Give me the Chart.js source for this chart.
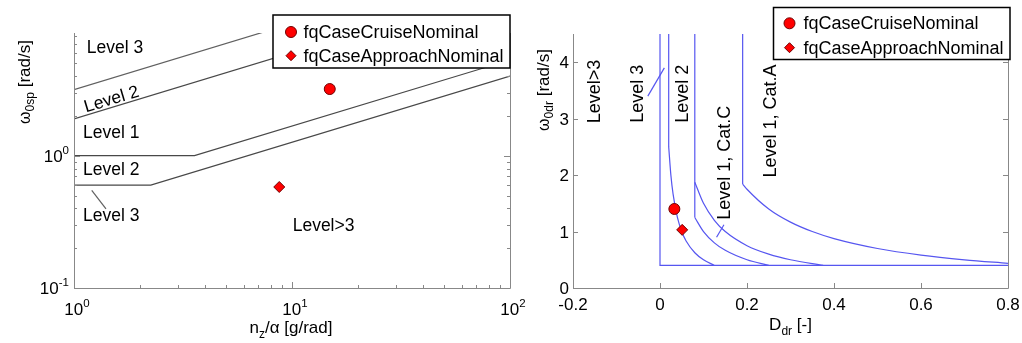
<!DOCTYPE html>
<html>
<head>
<meta charset="utf-8">
<script src="https://cdn.jsdelivr.net/npm/chart.js@4.4.1/dist/chart.umd.min.js"></script>
<style>
html, body { margin: 0; padding: 0; background: #fff; }
#wrap { position: relative; width: 1022px; height: 343px; overflow: hidden; }
canvas { position: absolute; top: 0; }
#spChart { left: 0; }
#drChart { left: 520px; }
</style>
</head>
<body>
<div id="wrap">
  <canvas id="spChart" width="530" height="343"></canvas>
  <canvas id="drChart" width="502" height="343"></canvas>
</div>
<script>
// ---- left plot: short period frequency vs n/alpha (log-log) ----
const spCap10X = [1, 100];
const spCap10Y = [3.16, 31.6];
const spCap36X = [1, 100];
const spCap36Y = [1.9, 19];
const spLvl1LowX = [1, 3.57, 100];
const spLvl1LowY = [1.0, 1.0, 5.29];
const spLvl2LowX = [1, 2.25, 100];
const spLvl2LowY = [0.6, 0.6, 4.0];
const spLeaderX = [1.206, 1.402];
const spLeaderY = [0.547, 0.397];
const spCruise = { x: [14.9], y: [3.19] };
const spApproach = { x: [8.74], y: [0.58] };
const spXTickVals = [1, 10, 100];
const spXTickExp = ['0', '1', '2'];
const spYTickVals = [0.1, 1];
const spYTickExp = ['-1', '0'];
const spMinor = [2, 3, 4, 5, 6, 7, 8, 9];
// annotation text: [label, x, y, align, rotation(deg)]
const spTexts = [
  ['Level 3', 1.144, 6.55, 'left', 0],
  ['Level 2', 1.489, 2.65, 'center', -16.8],
  ['Level 1', 1.10, 1.485, 'left', 0],
  ['Level 2', 1.10, 0.784, 'left', 0],
  ['Level 3', 1.10, 0.348, 'left', 0],
  ['Level>3', 10.07, 0.292, 'left', 0]
];

// ---- right plot: dutch roll frequency vs damping ----
const drLvl3X = [0, 0, 0.8];
const drLvl3Y = [4.5, 0.4, 0.4];
const drLvl2VertX = [0.02, 0.02];
const drLvl2VertY = [4.5, 2.5];
const drLvl2CurveX = [0.02, 0.025, 0.03, 0.04, 0.05, 0.06, 0.08, 0.1, 0.125];
const drLvl2CurveY = [2.5, 2.0, 1.667, 1.25, 1.0, 0.833, 0.625, 0.5, 0.4];
const drCatCVertX = [0.08, 0.08];
const drCatCVertY = [4.5, 1.25];
const drCatC1CurveX = [0.08, 0.1, 0.125, 0.15, 0.2, 0.25];
const drCatC1CurveY = [1.25, 1.0, 0.8, 0.667, 0.5, 0.4];
const drCatC2CurveX = [0.08, 0.1, 0.125, 0.15, 0.2, 0.25, 0.3, 0.375];
const drCatC2CurveY = [1.875, 1.5, 1.2, 1.0, 0.75, 0.6, 0.5, 0.4];
const drCatAVertX = [0.19, 0.19];
const drCatAVertY = [4.5, 1.842];
const drCatACurveX = [0.19, 0.2, 0.25, 0.3, 0.35, 0.4, 0.5, 0.6, 0.7, 0.8];
const drCatACurveY = [1.842, 1.75, 1.4, 1.167, 1.0, 0.875, 0.7, 0.583, 0.5, 0.4375];
const drLeader1X = [-0.028, 0.010];
const drLeader1Y = [3.40, 3.90];
const drLeader2X = [0.130, 0.147];
const drLeader2Y = [0.90, 1.12];
const drCruise = { x: [0.033], y: [1.40] };
const drApproach = { x: [0.051], y: [1.03] };
const drXTickVals = [-0.2, 0, 0.2, 0.4, 0.6, 0.8];
const drXTickLabels = ['-0.2', '0', '0.2', '0.4', '0.6', '0.8'];
const drYTickVals = [0, 1, 2, 3, 4];
const drYTickLabels = ['0', '1', '2', '3', '4'];
const drTexts = [
  ['Level>3', -0.149, 3.48],
  ['Level 3', -0.050, 3.44],
  ['Level 2', 0.053, 3.44],
  ['Level 1, Cat.C', 0.149, 2.22],
  ['Level 1, Cat.A', 0.256, 2.96]
];

const legendLabels = ['fqCaseCruiseNominal', 'fqCaseApproachNominal'];

const FONT = '"Liberation Sans", Arial, Helvetica, sans-serif';
const AXIS = '#888';
const GRAYLINE = '#484848';
const BLUE = '#5656f0';

function pts(xs, ys) {
  return xs.map((x, i) => ({ x: x, y: ys[i] }));
}

function lineSet(xs, ys, color, curved) {
  return {
    data: pts(xs, ys),
    showLine: true,
    pointRadius: 0,
    borderColor: color,
    borderWidth: 1.2,
    fill: false,
    cubicInterpolationMode: curved ? 'monotone' : 'default',
    tension: 0
  };
}

function markerSet(p, style) {
  return {
    data: pts(p.x, p.y),
    showLine: false,
    pointStyle: style,
    pointRadius: 5.5,
    backgroundColor: '#ff0000',
    borderColor: '#700000',
    borderWidth: 1
  };
}

function seg(ctx, x1, y1, x2, y2) {
  ctx.beginPath();
  ctx.moveTo(x1, y1);
  ctx.lineTo(x2, y2);
  ctx.stroke();
}

// draws text made of pieces [text, size, dy]
function drawRich(ctx, parts, x, y, align, angle) {
  ctx.save();
  ctx.translate(x, y);
  if (angle) ctx.rotate(angle);
  let w = 0;
  const widths = parts.map(p => {
    ctx.font = p[1] + 'px ' + FONT;
    const m = ctx.measureText(p[0]).width;
    w += m;
    return m;
  });
  let cx = align === 'center' ? -w / 2 : (align === 'right' ? -w : 0);
  ctx.fillStyle = '#000';
  ctx.textAlign = 'left';
  ctx.textBaseline = 'alphabetic';
  parts.forEach((p, i) => {
    ctx.font = p[1] + 'px ' + FONT;
    ctx.fillText(p[0], cx, p[2] || 0);
    cx += widths[i];
  });
  ctx.restore();
}

function drawLabel(ctx, s, x, y, align, angle, size) {
  ctx.save();
  ctx.translate(x, y);
  if (angle) ctx.rotate(angle);
  ctx.font = (size || 17.5) + 'px ' + FONT;
  ctx.fillStyle = '#000';
  ctx.textAlign = align;
  ctx.textBaseline = 'middle';
  ctx.fillText(s, 0, 0);
  ctx.restore();
}

function drawMarker(ctx, style, x, y, r) {
  ctx.save();
  ctx.fillStyle = '#ff0000';
  ctx.strokeStyle = '#700000';
  ctx.lineWidth = 1;
  ctx.beginPath();
  if (style === 'circle') {
    ctx.arc(x, y, r, 0, Math.PI * 2);
  } else {
    ctx.moveTo(x, y - r);
    ctx.lineTo(x + r, y);
    ctx.lineTo(x, y + r);
    ctx.lineTo(x - r, y);
    ctx.closePath();
  }
  ctx.fill();
  ctx.stroke();
  ctx.restore();
}

function drawLegend(ctx, box, markerX, textX, rowY) {
  ctx.save();
  ctx.fillStyle = '#fff';
  ctx.fillRect(box[0], box[1], box[2] - box[0], box[3] - box[1]);
  ctx.strokeStyle = '#000';
  ctx.lineWidth = 1.5;
  ctx.strokeRect(box[0], box[1], box[2] - box[0], box[3] - box[1]);
  drawMarker(ctx, 'circle', markerX, rowY[0], 5.5);
  drawMarker(ctx, 'diamond', markerX, rowY[1], 5);
  legendLabels.forEach((s, i) => drawLabel(ctx, s, textX, rowY[i] + 1, 'left', 0, 18));
  ctx.restore();
}

const px = v => Math.round(v) + 0.5;

const spDecor = {
  id: 'spDecor',
  afterDatasetsDraw(chart) {
    const ctx = chart.ctx, a = chart.chartArea;
    const xs = chart.scales.x, ys = chart.scales.y;
    ctx.save();
    ctx.strokeStyle = AXIS;
    ctx.lineWidth = 1;
    seg(ctx, px(a.left), a.top, px(a.left), px(a.bottom));
    seg(ctx, px(a.left), px(a.bottom), px(a.right), px(a.bottom));
    seg(ctx, px(a.right), a.top, px(a.right), px(a.bottom));
    // x ticks (bottom, inward)
    spXTickVals.forEach((d, i) => {
      const p = px(xs.getPixelForValue(d));
      seg(ctx, p, a.bottom, p, a.bottom - 6);
      if (i < spXTickVals.length - 1) {
        spMinor.forEach(k => {
          const q = px(xs.getPixelForValue(d * k));
          seg(ctx, q, a.bottom, q, a.bottom - 3);
        });
      }
    });
    // y ticks (left and right, inward)
    spYTickVals.forEach(d => {
      const p = px(ys.getPixelForValue(d));
      seg(ctx, a.left, p, a.left + 6, p);
      seg(ctx, a.right, p, a.right - 6, p);
      spMinor.forEach(k => {
        if (d * k > ys.max) return;
        const q = px(ys.getPixelForValue(d * k));
        seg(ctx, a.left, q, a.left + 3, q);
        seg(ctx, a.right, q, a.right - 3, q);
      });
    });
    // tick labels
    spXTickVals.forEach((d, i) => {
      const p = xs.getPixelForValue(d);
      drawRich(ctx, [['10', 17, 0], [spXTickExp[i], 11.5, -8]], p + 3, 315, 'center');
    });
    spYTickVals.forEach((d, i) => {
      const p = ys.getPixelForValue(d);
      drawRich(ctx, [['10', 17, 0], [spYTickExp[i], 11.5, -8]], a.left - 5, p + 6, 'right');
    });
    // axis titles
    drawRich(ctx, [['n', 17, 0], ['z', 12, 5], ['/\u03b1 [g/rad]', 17, 0]], 291, 333, 'center');
    drawRich(ctx, [['\u03c9', 16, 0], ['0sp', 12, 4], [' [rad/s]', 17, 0]], 30, 82, 'center', -Math.PI / 2);
    // region labels
    spTexts.forEach(t => {
      drawLabel(ctx, t[0], xs.getPixelForValue(t[1]), ys.getPixelForValue(t[2]), t[3], t[4] * Math.PI / 180);
    });
    drawLegend(ctx, [273, 15, 510, 68], 291, 303.5, [32, 55.7]);
    ctx.restore();
  }
};

const drDecor = {
  id: 'drDecor',
  afterDatasetsDraw(chart) {
    const ctx = chart.ctx, a = chart.chartArea;
    const xs = chart.scales.x, ys = chart.scales.y;
    ctx.save();
    ctx.strokeStyle = AXIS;
    ctx.lineWidth = 1;
    seg(ctx, px(a.left), a.top, px(a.left), px(a.bottom));
    seg(ctx, px(a.left), px(a.bottom), px(a.right), px(a.bottom));
    seg(ctx, px(a.right), a.top, px(a.right), px(a.bottom));
    drXTickVals.forEach(v => {
      const p = px(xs.getPixelForValue(v));
      seg(ctx, p, a.bottom, p, a.bottom - 5);
    });
    drYTickVals.forEach(v => {
      const p = px(ys.getPixelForValue(v));
      seg(ctx, a.left, p, a.left + 5, p);
      seg(ctx, a.right, p, a.right - 5, p);
    });
    ctx.fillStyle = '#000';
    ctx.font = '17px ' + FONT;
    ctx.textAlign = 'center';
    ctx.textBaseline = 'alphabetic';
    drXTickVals.forEach((v, i) => ctx.fillText(drXTickLabels[i], xs.getPixelForValue(v), 309.5));
    ctx.textAlign = 'right';
    drYTickVals.forEach((v, i) => ctx.fillText(drYTickLabels[i], a.left - 4, ys.getPixelForValue(v) + 6));
    drawRich(ctx, [['D', 17, 0], ['dr', 12, 5], [' [-]', 17, 0]], 270.5, 330, 'center');
    drawRich(ctx, [['\u03c9', 16, 0], ['0dr', 12, 4], [' [rad/s]', 17, 0]], 29, 90, 'center', -Math.PI / 2);
    drTexts.forEach(t => {
      drawLabel(ctx, t[0], xs.getPixelForValue(t[1]), ys.getPixelForValue(t[2]), 'center', -Math.PI / 2, 18);
    });
    drawLegend(ctx, [253.5, 7.5, 490, 59.5], 269.5, 283.5, [23.3, 47.7]);
    ctx.restore();
  }
};

function baseOptions(xScale, yScale, pad) {
  return {
    responsive: false,
    animation: false,
    events: [],
    layout: { padding: pad },
    scales: {
      x: Object.assign({ display: false }, xScale),
      y: Object.assign({ display: false }, yScale)
    },
    plugins: { legend: { display: false }, tooltip: { enabled: false } }
  };
}

new Chart(document.getElementById('spChart'), {
  type: 'scatter',
  data: {
    datasets: [
      markerSet(spCruise, 'circle'),
      markerSet(spApproach, 'rectRot'),
      lineSet(spCap10X, spCap10Y, '#606060'),
      lineSet(spCap36X, spCap36Y, GRAYLINE),
      lineSet(spLvl1LowX, spLvl1LowY, GRAYLINE),
      lineSet(spLvl2LowX, spLvl2LowY, GRAYLINE),
      lineSet(spLeaderX, spLeaderY, '#606060')
    ]
  },
  options: baseOptions(
    { type: 'logarithmic', min: 1, max: 100 },
    { type: 'logarithmic', min: 0.1, max: 8.46 },
    { left: 74, right: 20, top: 33, bottom: 55 }
  ),
  plugins: [spDecor]
});

new Chart(document.getElementById('drChart'), {
  type: 'scatter',
  data: {
    datasets: [
      markerSet(drCruise, 'circle'),
      markerSet(drApproach, 'rectRot'),
      lineSet(drLvl3X, drLvl3Y, BLUE),
      lineSet(drLvl2VertX, drLvl2VertY, BLUE),
      lineSet(drLvl2CurveX, drLvl2CurveY, BLUE, true),
      lineSet(drCatCVertX, drCatCVertY, BLUE),
      lineSet(drCatC1CurveX, drCatC1CurveY, BLUE, true),
      lineSet(drCatC2CurveX, drCatC2CurveY, BLUE, true),
      lineSet(drCatAVertX, drCatAVertY, BLUE),
      lineSet(drCatACurveX, drCatACurveY, BLUE, true),
      lineSet(drLeader1X, drLeader1Y, BLUE),
      lineSet(drLeader2X, drLeader2Y, BLUE)
    ]
  },
  options: baseOptions(
    { type: 'linear', min: -0.2, max: 0.8 },
    { type: 'linear', min: 0, max: 4.5 },
    { left: 53, right: 14, top: 34, bottom: 55 }
  ),
  plugins: [drDecor]
});
</script>
</body>
</html>
